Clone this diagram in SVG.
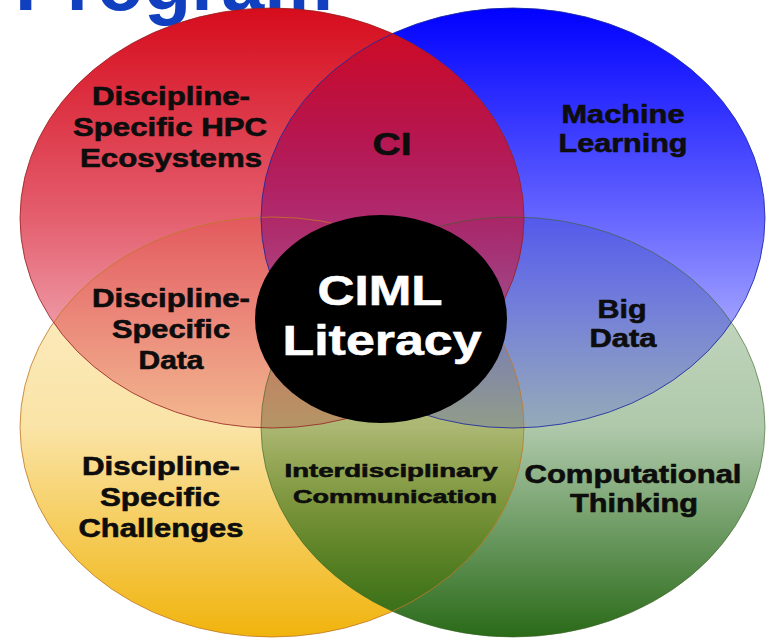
<svg xmlns="http://www.w3.org/2000/svg" width="769" height="640" viewBox="0 0 769 640">
  <defs>
    <!-- translucent vertical fades for the four sets -->
    <linearGradient id="g-red" x1="0" y1="0" x2="0" y2="1">
      <stop offset="0" stop-color="#d60c1c" stop-opacity="1"/>
      <stop offset="0.5" stop-color="#d60c24" stop-opacity="0.66"/>
      <stop offset="1" stop-color="#d60c2c" stop-opacity="0.2"/>
    </linearGradient>
    <linearGradient id="g-blue" x1="0" y1="0" x2="0" y2="1">
      <stop offset="0" stop-color="#0000ff" stop-opacity="1"/>
      <stop offset="0.5" stop-color="#0000ff" stop-opacity="0.6"/>
      <stop offset="1" stop-color="#0000ff" stop-opacity="0.15"/>
    </linearGradient>
    <linearGradient id="g-yellow" x1="0" y1="0" x2="0" y2="1">
      <stop offset="0" stop-color="#f0b000" stop-opacity="0.2"/>
      <stop offset="0.5" stop-color="#f0b000" stop-opacity="0.35"/>
      <stop offset="1" stop-color="#f0b000" stop-opacity="0.95"/>
    </linearGradient>
    <linearGradient id="g-green" x1="0" y1="0" x2="0" y2="1">
      <stop offset="0" stop-color="#2c7020" stop-opacity="0.22"/>
      <stop offset="0.5" stop-color="#2c7020" stop-opacity="0.38"/>
      <stop offset="1" stop-color="#2a6a18" stop-opacity="1"/>
    </linearGradient>
  </defs>
  <style>
    .lbl { font-family: "Liberation Sans", Arial, sans-serif; font-weight: bold; fill: #0d0d0d; stroke: #0d0d0d; stroke-width: 0.6; text-anchor: middle; }
    .big { font-size: 25px; }
    .inv { fill: #ffffff; stroke: #ffffff; }
    .edge { stroke-width: 1; }
  </style>

  <rect width="769" height="640" fill="#ffffff"/>

  <!-- heading, clipped by the top of the canvas -->
  <text id="heading" x="15" y="10" font-family="Liberation Sans, Arial, sans-serif" font-weight="bold" font-size="78" fill="#1040c0" textLength="318" lengthAdjust="spacingAndGlyphs">Program</text>

  <!-- the four sets, lower ones first -->
  <g id="set-challenges">
    <ellipse cx="272" cy="427" rx="252" ry="210" fill="url(#g-yellow)"/>
  </g>
  <g id="set-thinking">
    <ellipse cx="513" cy="427" rx="252" ry="210" fill="url(#g-green)"/>
  </g>
  <g id="set-ml">
    <ellipse cx="513" cy="218" rx="252" ry="210" fill="url(#g-blue)"/>
  </g>
  <g id="set-hpc">
    <ellipse cx="272" cy="218" rx="252" ry="210" fill="url(#g-red)"/>
  </g>

  <!-- thin outlines of each set -->
  <g id="outlines" fill="none">
    <ellipse class="edge" cx="272" cy="427" rx="252" ry="210" stroke="#c07828" stroke-opacity="0.8"/>
    <ellipse class="edge" cx="513" cy="427" rx="252" ry="210" stroke="#3c6428" stroke-opacity="0.6"/>
    <ellipse class="edge" cx="513" cy="218" rx="252" ry="210" stroke="#1c2aa0" stroke-opacity="0.85"/>
    <ellipse class="edge" cx="272" cy="218" rx="252" ry="210" stroke="#962020" stroke-opacity="0.8"/>
  </g>

  <!-- centre -->
  <g id="core">
    <ellipse cx="381" cy="319" rx="126" ry="104" fill="#000000"/>
    <text class="lbl inv" x="380" y="305" font-size="42" textLength="125" lengthAdjust="spacingAndGlyphs">CIML</text>
    <text class="lbl inv" x="382" y="355" font-size="42" textLength="199" lengthAdjust="spacingAndGlyphs">Literacy</text>
  </g>

  <!-- region labels -->
  <g id="label-hpc">
    <text class="lbl big" x="171" y="105" textLength="158" lengthAdjust="spacingAndGlyphs">Discipline-</text>
    <text class="lbl big" x="170" y="136" textLength="194" lengthAdjust="spacingAndGlyphs">Specific HPC</text>
    <text class="lbl big" x="171" y="167" textLength="182" lengthAdjust="spacingAndGlyphs">Ecosystems</text>
  </g>
  <g id="label-ci">
    <text class="lbl" x="392" y="155" font-size="32" textLength="39" lengthAdjust="spacingAndGlyphs">CI</text>
  </g>
  <g id="label-ml">
    <text class="lbl big" x="623" y="123" textLength="123" lengthAdjust="spacingAndGlyphs">Machine</text>
    <text class="lbl big" x="623" y="152" textLength="129" lengthAdjust="spacingAndGlyphs">Learning</text>
  </g>
  <g id="label-data">
    <text class="lbl big" x="171" y="307" textLength="158" lengthAdjust="spacingAndGlyphs">Discipline-</text>
    <text class="lbl big" x="171" y="338" textLength="118" lengthAdjust="spacingAndGlyphs">Specific</text>
    <text class="lbl big" x="171" y="369" textLength="65" lengthAdjust="spacingAndGlyphs">Data</text>
  </g>
  <g id="label-bigdata">
    <text class="lbl big" x="622" y="318" textLength="49" lengthAdjust="spacingAndGlyphs">Big</text>
    <text class="lbl big" x="623" y="347" textLength="67" lengthAdjust="spacingAndGlyphs">Data</text>
  </g>
  <g id="label-challenges">
    <text class="lbl big" x="161" y="475" textLength="158" lengthAdjust="spacingAndGlyphs">Discipline-</text>
    <text class="lbl big" x="160" y="506" textLength="120" lengthAdjust="spacingAndGlyphs">Specific</text>
    <text class="lbl big" x="161" y="537" textLength="165" lengthAdjust="spacingAndGlyphs">Challenges</text>
  </g>
  <g id="label-communication">
    <text class="lbl" x="391" y="477" font-size="19" textLength="213" lengthAdjust="spacingAndGlyphs">Interdisciplinary</text>
    <text class="lbl" x="395" y="503" font-size="19" textLength="204" lengthAdjust="spacingAndGlyphs">Communication</text>
  </g>
  <g id="label-thinking">
    <text class="lbl big" x="633" y="483" textLength="217" lengthAdjust="spacingAndGlyphs">Computational</text>
    <text class="lbl big" x="634" y="512" textLength="128" lengthAdjust="spacingAndGlyphs">Thinking</text>
  </g>
</svg>
